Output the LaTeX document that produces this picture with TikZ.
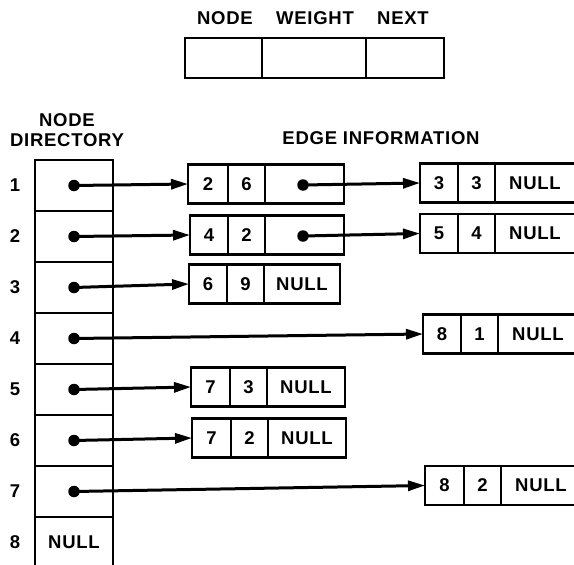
\documentclass[tikz,border=0pt]{standalone}
\usepackage{fontspec}
\setmainfont{Liberation Sans}[LetterSpace=4]
\usetikzlibrary{arrows.meta}
\tikzset{
  x=1pt, y=-1pt,
  txt/.style={font=\fontsize{18.5}{22}\selectfont\bfseries, inner sep=0pt},
  cell/.style={txt, draw, line width=2.1pt, outer sep=0pt, minimum height=39pt, inner sep=0pt, anchor=west},
  dircell/.style={txt, draw, line width=2.2pt, outer sep=0pt, minimum width=78pt, minimum height=51pt, inner sep=0pt, anchor=north west},
  topcell/.style={draw, line width=2.2pt, outer sep=0pt, minimum height=40pt, inner sep=0pt, anchor=west},
  dot/.style={circle, fill=black, minimum size=11.5pt, inner sep=0pt},
  arr/.style={line width=3pt, -{Triangle[length=17pt,width=10pt]}},
}
\newcommand\record[8]{% name, x, yc, w3, a, b, c, w1
  \node[cell, minimum width=#8pt] (#1a) at (#2,#3) {#5};
  \node[cell, minimum width=37pt] (#1b) at (#1a.east) {#6};
  \node[cell, minimum width=#4pt] (#1c) at (#1b.east) {#7};
}
\begin{document}
\begin{tikzpicture}
\useasboundingbox[fill=white] (0,0) rectangle (574,565);

% legend record
\node[txt] (lnode) at (225,18) {NODE};
\node[txt] (lweight) at (315,18) {WEIGHT};
\node[txt] (lnext) at (403,18) {NEXT};
\node[topcell, minimum width=77pt] (ta) at (185,58) {};
\node[topcell, minimum width=104pt] (tb) at (ta.east) {};
\node[topcell, minimum width=78pt] (tc) at (tb.east) {};

% headings
\node[txt] (hnode) at (67,120) {NODE};
\node[txt] (hdir) at (67,140) {DIRECTORY};
\node[txt] (hedge) at (381,138) {EDGE INFORMATION};

% node directory
\node[dircell] (d1) at (35,160) {};
\node[dircell] (d2) at (d1.south west) {};
\node[dircell] (d3) at (d2.south west) {};
\node[dircell] (d4) at (d3.south west) {};
\node[dircell] (d5) at (d4.south west) {};
\node[dircell] (d6) at (d5.south west) {};
\node[dircell] (d7) at (d6.south west) {};
\node[dircell] (d8) at (d7.south west) {NULL};

\foreach \i in {1,...,8} {
  \node[txt, anchor=center] (r\i) at (15,0 |- d\i.center) {\i};
}
\foreach \i in {1,...,7} {
  \node[dot] (p\i) at (d\i.center) {};
}

% edge records, first column
\record{m1}{188}{184}{79}{2}{6}{}{40}
\record{m2}{190}{235}{79}{4}{2}{}{38}
\record{m3}{189}{284}{76}{6}{9}{NULL}{38}
\record{m5}{191}{387}{78}{7}{3}{NULL}{39}
\record{m6}{192}{438}{78}{7}{2}{NULL}{39}

% edge records, second column
\record{n1}{420}{183}{80}{3}{3}{NULL}{38}
\record{n2}{420}{233.5}{80}{5}{4}{NULL}{38}
\record{n4}{423}{334}{80}{8}{1}{NULL}{38}
\record{n7}{425}{485.5}{80}{8}{2}{NULL}{39}

% pointers inside first-column records
\node[dot] (q1) at (303,185) {};
\node[dot] (q2) at (303,236) {};

% connectors
\draw[arr] (p1.center) -- (m1a.west);
\draw[arr] (p2.center) -- (m2a.west);
\draw[arr] (p3.center) -- (m3a.west);
\draw[arr] (p4.center) -- (n4a.west);
\draw[arr] (p5.center) -- (m5a.west);
\draw[arr] (p6.center) -- (m6a.west);
\draw[arr] (p7.center) -- (n7a.west);
\draw[arr] (q1.center) -- (n1a.west);
\draw[arr] (q2.center) -- (n2a.west);
\end{tikzpicture}
\end{document}
